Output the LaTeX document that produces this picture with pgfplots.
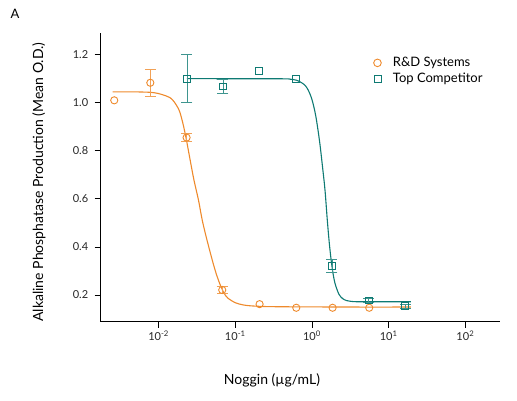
\documentclass[border=0pt]{standalone}
\usepackage{fontspec}
\setmainfont{Lato}
\usepackage{pgfplots}
\pgfplotsset{compat=1.18}
\definecolor{rdorange}{HTML}{EE8A2C}
\definecolor{compteal}{HTML}{0E7A73}
\begin{document}
\begin{tikzpicture}
\useasboundingbox (0,0) rectangle (517pt,400pt);
\begin{axis}[
  at={(100.7pt,78.3pt)}, anchor=south west,
  scale only axis, width=399.3pt, height=288.7pt,
  xmode=log, log basis x=10,
  xmin=0.001758, xmax=283,
  ymin=0.089, ymax=1.29,
  axis x line*=bottom, axis y line*=left,
  axis line style={-, line width=1.2pt, black},
  tick style={black, line width=0.8pt},
  tick align=outside, major tick length=6pt,
  minor tick num=0, xminorticks=false,
  xtick={0.01,0.1,1,10,100},
  xticklabels={10\textsuperscript{-2},10\textsuperscript{-1},10\textsuperscript{0},10\textsuperscript{1},10\textsuperscript{2}},
  ytick={0.2,0.4,0.6,0.8,1.0,1.2},
  yticklabel style={/pgf/number format/fixed, /pgf/number format/fixed zerofill, /pgf/number format/precision=1, xshift=-3pt},
  /pgf/number format/assume math mode=true,
  ticklabel style={font=\fontsize{11}{13}\selectfont, text=black!85},
  legend style={at={(0.674,0.93)}, anchor=north west, draw=none, fill=none,
    font=\fontsize{13}{15}\selectfont, row sep=1pt, cells={anchor=west}},
  legend image code/.code={\draw[#1] plot coordinates {(4pt,0pt)}; \path (0pt,0pt) (17pt,0pt);},
  clip=false,
]
\addlegendimage{only marks, mark=o, mark size=3.8pt, rdorange, line width=0.9pt}
\addlegendentry{R\&D Systems}
\addlegendimage{only marks, mark=square, mark size=3.5pt, compteal, line width=0.9pt}
\addlegendentry{Top Competitor}

% fitted curves
\addplot[rdorange, line width=1.1pt, smooth, forget plot] coordinates {
(0.002512,1.045) (0.005012,1.045) (0.007943,1.043) (0.01,1.038) (0.012589,1.028)
(0.014125,1.021) (0.015849,1.005) (0.017783,0.980) (0.019055,0.958) (0.020893,0.910)
(0.022909,0.850) (0.025704,0.764) (0.028840,0.680) (0.033113,0.595) (0.037154,0.510)
(0.042658,0.430) (0.050119,0.345) (0.056234,0.290) (0.063096,0.245) (0.070795,0.210)
(0.079433,0.188) (0.1,0.168) (0.125893,0.159) (0.158489,0.155) (0.251189,0.152)
(0.501187,0.151) (3.162278,0.150) (19.5,0.150)};
\addplot[compteal, line width=1.1pt, smooth, forget plot] coordinates {
(0.023442,1.100) (0.398107,1.0995) (0.501187,1.0983) (0.630957,1.0934) (0.794328,1.0754)
(0.891251,1.053) (1,1.013) (1.122018,0.944) (1.258925,0.837) (1.380384,0.726)
(1.479108,0.636) (1.584893,0.511) (1.678804,0.419) (1.778279,0.345) (1.883649,0.289)
(1.995262,0.249) (2.238721,0.204) (2.511886,0.185) (2.818383,0.177) (3.162278,0.174)
(3.981072,0.172) (10,0.172) (19.5,0.172)};

% R&D Systems points with error bars
\addplot[only marks, mark=o, mark size=3.6pt, rdorange, line width=0.9pt, forget plot,
  error bars/.cd, y dir=both, y explicit,
  error bar style={rdorange!80, line width=0.9pt}, error mark options={rotate=90, mark size=5.5pt, rdorange!80, line width=0.9pt}]
coordinates {
(0.0078,1.083) +- (0,0.057)
(0.02317,0.855) +- (0,0.018)
(0.0676,0.221) +- (0,0.015)
};
\addplot[only marks, mark=o, mark size=3.6pt, rdorange, line width=0.9pt, forget plot]
coordinates {
(0.00264,1.010) (0.2074,0.162) (0.624,0.147) (1.857,0.147) (5.58,0.147)
};

% Top Competitor points
\addplot[only marks, mark=square, mark size=3.4pt, compteal, line width=0.9pt, forget plot,
  error bars/.cd, y dir=both, y explicit,
  error bar style={compteal!80, line width=0.9pt}, error mark options={rotate=90, mark size=5.5pt, compteal!80, line width=0.9pt}]
coordinates {
(0.02345,1.100) +- (0,0.100)
(0.0691,1.068) +- (0,0.028)
(1.823,0.321) +- (0,0.026)
(5.5,0.177) +- (0,0.007)
(16.46,0.153) +- (0,0.007)
};
\addplot[only marks, mark=square, mark size=3.4pt, compteal, line width=0.9pt, forget plot]
coordinates {
(0.2056,1.133) (0.618,1.100)
};
\end{axis}
\node[font=\fontsize{13}{15}\selectfont] at (15pt,386pt) {A};
\node[rotate=90, font=\fontsize{14}{16}\selectfont] at (39pt,218pt) {Alkaline Phosphatase Production (Mean O.D.)};
\node[font=\fontsize{14}{16}\selectfont] at (272pt,20pt) {Noggin (µg/mL)};
\end{tikzpicture}
\end{document}
